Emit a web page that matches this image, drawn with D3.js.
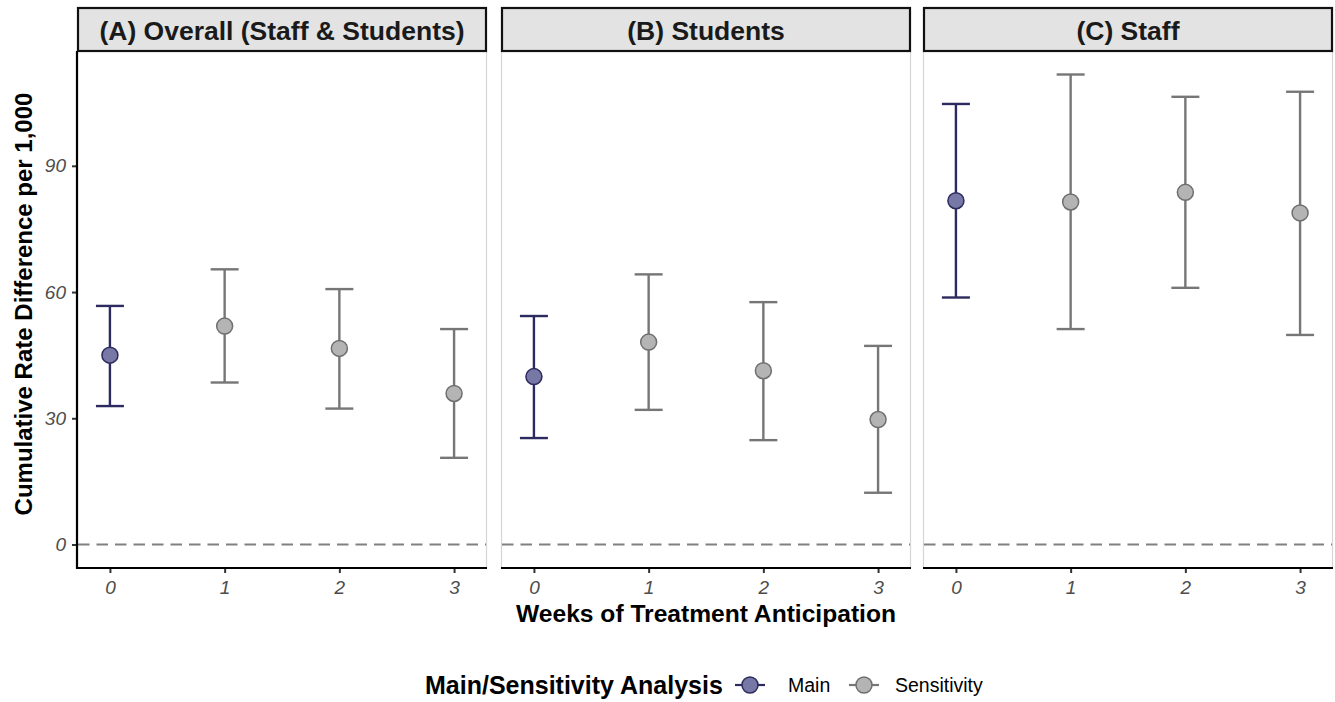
<!DOCTYPE html>
<html>
<head>
<meta charset="utf-8">
<script src="https://cdn.jsdelivr.net/npm/d3@7"></script>
<style>
  html, body { margin: 0; padding: 0; background: #fff; }
  svg { display: block; font-family: "Liberation Sans", Arial, Helvetica, sans-serif; }
</style>
</head>
<body>
<svg id="chart" width="1335" height="702"></svg>
<script>
// Panels, weeks and estimates (cumulative rate difference per 1,000)
const panels = ["(A) Overall (Staff & Students)", "(B) Students", "(C) Staff"];
const weeks = [0, 1, 2, 3];
const analysis = ["Main", "Sensitivity", "Sensitivity", "Sensitivity"];

const estOverall  = [45.0, 51.9, 46.6, 35.9];
const lowOverall  = [32.9, 38.5, 32.3, 20.6];
const highOverall = [56.7, 65.4, 60.7, 51.2];

const estStudents  = [39.9, 48.1, 41.3, 29.7];
const lowStudents  = [25.3, 32.0, 24.8, 12.3];
const highStudents = [54.3, 64.2, 57.6, 47.2];

const estStaff  = [81.7, 81.4, 83.7, 78.8];
const lowStaff  = [58.7, 51.2, 61.0, 49.8];
const highStaff = [104.7, 111.7, 106.4, 107.6];

const yTicks = [0, 30, 60, 90];
const legendLabels = ["Main", "Sensitivity"];

const panelData = [
  [estOverall, lowOverall, highOverall],
  [estStudents, lowStudents, highStudents],
  [estStaff, lowStaff, highStaff]
].map((s, p) => weeks.map((w, i) => ({
  panel: panels[p], week: w, group: analysis[i],
  est: s[0][i], lo: s[1][i], hi: s[2][i]
})));

const lineColor  = { Main: "#2c2a5e", Sensitivity: "#767676" };
const fillColor  = { Main: "#7778a6", Sensitivity: "#b4b4b4" };
const pointStroke = { Main: "#2c2a5e", Sensitivity: "#6f6f6f" };

const svg = d3.select("#chart");

const panelLeft = [77, 501, 923];
const panelWidth = 410;
const stripTop = 8, stripBottom = 51;
const plotTop = 51, plotBottom = 568;

// Shared y scale, padded like a ggplot continuous scale around [0, max upper]
const yMax = d3.max([highOverall, highStudents, highStaff].flat());
const yPad = (yMax - 0) * 0.05;
const y = d3.scaleLinear().domain([0 - yPad, yMax + yPad]).range([plotBottom, plotTop]);

panelData.forEach((rows, p) => {
  const x0 = panelLeft[p];
  const x = d3.scaleLinear().domain([-0.287, 3.287]).range([x0, x0 + panelWidth]);
  const g = svg.append("g");

  // Panel border (light grey)
  g.append("rect")
    .attr("x", x0 + 0.5).attr("y", plotTop)
    .attr("width", panelWidth - 1).attr("height", plotBottom - plotTop)
    .attr("fill", "#fff").attr("stroke", "#d6d6d6").attr("stroke-width", 1.2);

  // Strip
  g.append("rect")
    .attr("x", x0 + 1).attr("y", stripTop)
    .attr("width", panelWidth - 2).attr("height", stripBottom - stripTop)
    .attr("fill", "#e3e3e3").attr("stroke", "#111").attr("stroke-width", 2.2);
  g.append("text")
    .attr("x", x0 + panelWidth / 2).attr("y", (stripTop + stripBottom) / 2 + 1)
    .attr("text-anchor", "middle").attr("dominant-baseline", "central")
    .attr("font-size", 26.5).attr("font-weight", "bold").attr("fill", "#1a1a1a")
    .text(panels[p]);

  // Reference line at zero
  g.append("line")
    .attr("x1", x0 + 1).attr("x2", x0 + panelWidth - 1)
    .attr("y1", y(0)).attr("y2", y(0))
    .attr("stroke", "#808080").attr("stroke-width", 2)
    .attr("stroke-dasharray", "11.5,7");

  // X axis
  const xAxis = d3.axisBottom(x).tickValues(weeks).tickSize(5).tickPadding(8)
    .tickFormat(d3.format("d"));
  const xa = g.append("g").attr("transform", `translate(0,${plotBottom})`).call(xAxis);
  xa.select(".domain").remove();
  xa.selectAll(".tick line").attr("stroke", "#333").attr("stroke-width", 2);
  xa.selectAll(".tick text").attr("font-size", 19).attr("font-style", "italic")
    .attr("fill", "#4d4d4d").attr("font-family", "Liberation Sans, Arial, sans-serif");
  g.append("line")
    .attr("x1", x0).attr("x2", x0 + panelWidth)
    .attr("y1", plotBottom).attr("y2", plotBottom)
    .attr("stroke", "#000").attr("stroke-width", 2.2);

  // Y axis on the first panel only
  if (p === 0) {
    const yAxis = d3.axisLeft(y).tickValues(yTicks).tickSize(5).tickPadding(6);
    const ya = g.append("g").attr("transform", `translate(${x0},0)`).call(yAxis);
    ya.select(".domain").remove();
    ya.selectAll(".tick line").attr("stroke", "#333").attr("stroke-width", 2);
    ya.selectAll(".tick text").attr("font-size", 19).attr("font-style", "italic")
      .attr("fill", "#4d4d4d").attr("font-family", "Liberation Sans, Arial, sans-serif");
    g.append("line")
      .attr("x1", x0).attr("x2", x0)
      .attr("y1", plotTop).attr("y2", plotBottom + 1)
      .attr("stroke", "#000").attr("stroke-width", 2.2);
  }

  // Error bars
  const capHalf = 14;
  const eb = g.selectAll(".eb").data(rows).join("g").attr("class", "eb");
  eb.append("line")
    .attr("x1", d => x(d.week)).attr("x2", d => x(d.week))
    .attr("y1", d => y(d.lo)).attr("y2", d => y(d.hi))
    .attr("stroke", d => lineColor[d.group]).attr("stroke-width", 2.4);
  eb.append("line")
    .attr("x1", d => x(d.week) - capHalf).attr("x2", d => x(d.week) + capHalf)
    .attr("y1", d => y(d.hi)).attr("y2", d => y(d.hi))
    .attr("stroke", d => lineColor[d.group]).attr("stroke-width", 2.4);
  eb.append("line")
    .attr("x1", d => x(d.week) - capHalf).attr("x2", d => x(d.week) + capHalf)
    .attr("y1", d => y(d.lo)).attr("y2", d => y(d.lo))
    .attr("stroke", d => lineColor[d.group]).attr("stroke-width", 2.4);

  // Points
  g.selectAll(".pt").data(rows).join("circle").attr("class", "pt")
    .attr("cx", d => x(d.week)).attr("cy", d => y(d.est)).attr("r", 8)
    .attr("fill", d => fillColor[d.group])
    .attr("stroke", d => pointStroke[d.group]).attr("stroke-width", 1.5);
});

// Axis titles
svg.append("text")
  .attr("transform", `translate(32,304) rotate(-90)`)
  .attr("text-anchor", "middle")
  .attr("font-size", 24).attr("font-weight", "bold").attr("fill", "#000")
  .text("Cumulative Rate Difference per 1,000");

svg.append("text")
  .attr("x", 706).attr("y", 622)
  .attr("text-anchor", "middle")
  .attr("font-size", 24.6).attr("font-weight", "bold").attr("fill", "#000")
  .text("Weeks of Treatment Anticipation");

// Legend
const legY = 685;
svg.append("text")
  .attr("x", 425).attr("y", legY + 9)
  .attr("font-size", 25).attr("font-weight", "bold").attr("fill", "#000")
  .text("Main/Sensitivity Analysis");

const legKeys = [
  { label: legendLabels[0], group: "Main", cx: 750, tx: 788 },
  { label: legendLabels[1], group: "Sensitivity", cx: 864, tx: 895 }
];
const lg = svg.selectAll(".leg").data(legKeys).join("g").attr("class", "leg");
lg.append("line")
  .attr("x1", d => d.cx - 15).attr("x2", d => d.cx + 15)
  .attr("y1", legY).attr("y2", legY)
  .attr("stroke", d => lineColor[d.group]).attr("stroke-width", 2.2);
lg.append("circle")
  .attr("cx", d => d.cx).attr("cy", legY).attr("r", 8)
  .attr("fill", d => fillColor[d.group])
  .attr("stroke", d => pointStroke[d.group]).attr("stroke-width", 1.5);
lg.append("text")
  .attr("x", d => d.tx).attr("y", legY + 7)
  .attr("font-size", 19.5).attr("fill", "#000")
  .text(d => d.label);
</script>
</body>
</html>
